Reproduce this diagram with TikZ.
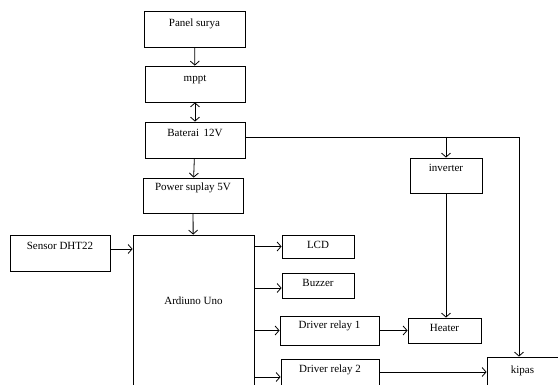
\documentclass[tikz,border=0pt]{standalone}
\usepackage{fontspec}
\setmainfont{Liberation Serif}
\usepackage{tikz}
\usetikzlibrary{positioning,arrows.meta}
\tikzset{
    blok/.style={rectangle, draw, line width=0.8pt, inner sep=0pt, font=\fontsize{11}{13}\selectfont, text height=8pt, text depth=#1},
    blok/.default=3pt,
    panah/.style={line width=0.8pt, -{Straight Barb[length=4pt,width=9pt]}}
}

\begin{document}
\begin{tikzpicture}[x=1pt, y=-1pt]
    \useasboundingbox (0,0) rectangle (558,385);
    \clip (0,0) rectangle (558,385);

    \node[blok=13pt, minimum width=101pt, minimum height=36pt] (panel) at (194.5,29) {Panel surya};
    \node[blok=13pt, minimum width=100pt, minimum height=36pt] (mppt) at (195,84) {mppt};
    \node[blok=15pt, minimum width=100pt, minimum height=36pt] (baterai) at (195,140) {Baterai \,12V};
    \node[blok=17pt, minimum width=100pt, minimum height=35pt] (psu) at (193,195.5) {Power suplay 5V};
    \node[blok=15pt, minimum width=100pt, minimum height=36pt] (sensor) at (60,253) {Sensor DHT22};
    \node[blok=54pt, minimum width=121pt, minimum height=185pt] (arduino) at (193.5,327.5) {Ardiuno Uno};

    \node[blok=4pt, minimum width=72pt, minimum height=23pt] (lcd) at (318,246.5) {LCD};
    \node[blok=6pt, minimum width=72pt, minimum height=25pt] (buzzer) at (318,285.5) {Buzzer};
    \node[blok=11pt, minimum width=99pt, minimum height=29pt] (relaysatu) at (329.5,330.5) {Driver relay 1};
    \node[blok=17pt, minimum width=98pt, minimum height=36pt] (relaydua) at (330,377) {Driver relay 2};
    \node[blok=15pt, minimum width=72pt, minimum height=35pt] (inverter) at (446,175.5) {inverter};
    \node[blok=6pt, minimum width=73pt, minimum height=25pt] (heater) at (444.5,330.5) {Heater};
    \node[blok=11pt, minimum width=71pt, minimum height=36pt] (kipas) at (522.5,375) {kipas};

    % jalur daya
    \draw[panah] (panel) -- (mppt);
    \draw[line width=0.8pt, {Straight Barb[length=4pt,width=9pt]}-{Straight Barb[length=4pt,width=9pt]}] (mppt) -- (baterai);
    \draw[panah] (baterai) -- (psu);
    \draw[panah] (psu) -- (arduino);
    \coordinate (cabang) at ([yshift=3pt]baterai.east);
    \draw[panah] (cabang) -| ([xshift=-3.5pt]kipas.north);
    \draw[panah] (cabang -| inverter.north) -- (inverter.north);
    \draw[panah] (inverter.south) -- (inverter.south |- heater.north);

    % input dan output arduino
    \draw[panah] ([yshift=4pt]sensor.east) -- ([yshift=4pt]sensor.east -| arduino.west);
    \draw[panah] (arduino.east |- lcd.west) -- (lcd.west);
    \draw[panah] ([yshift=-2.5pt]arduino.east |- buzzer.west) -- ([yshift=-2.5pt]buzzer.west);
    \draw[panah] (arduino.east |- relaysatu.west) -- (relaysatu.west);
    \draw[panah] (arduino.east |- relaydua.west) -- (relaydua.west);
    \draw[panah] (relaysatu) -- (heater);
    \draw[panah] ([yshift=5pt]relaydua.east) -- ([yshift=5pt]relaydua.east -| kipas.west);

\end{tikzpicture}
\end{document}
